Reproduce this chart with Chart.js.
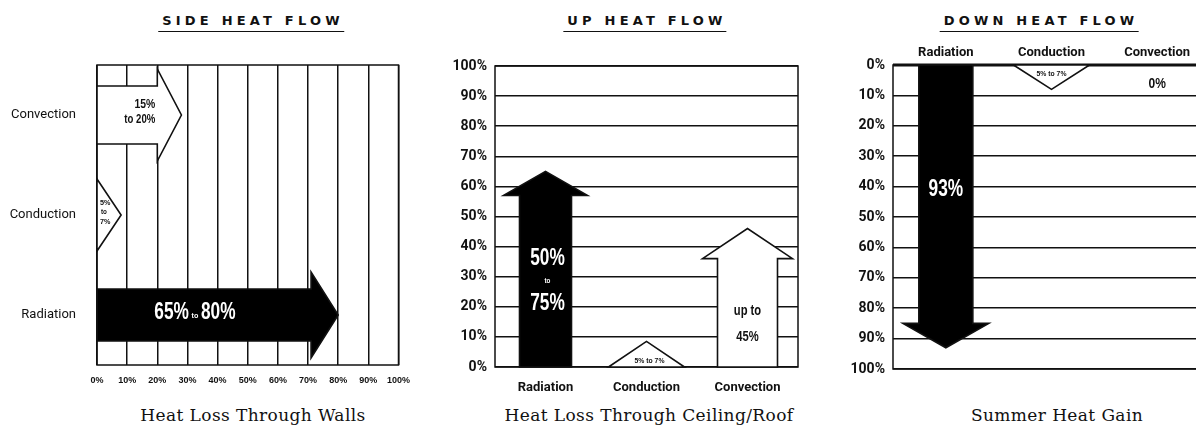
<!DOCTYPE html>
<html>
<head>
<meta charset="utf-8">
<script src="https://cdn.jsdelivr.net/npm/chart.js@4.4.0/dist/chart.umd.min.js"></script>
<style>
  body { margin: 0; background: #fff; width: 1196px; height: 430px; position: relative; overflow: hidden; }
  canvas { position: absolute; top: 40px; }
  .title { position: absolute; top: 13px; transform: translateX(-50%); white-space: nowrap;
           font: bold 13px "DejaVu Sans", sans-serif; letter-spacing: 4.2px; color: #111;
           border-bottom: 1.5px solid #111; padding: 0 0 3px 4px; line-height: 15px; }
  .caption { position: absolute; top: 405px; transform: translateX(-50%); white-space: nowrap;
             font: 17px "DejaVu Serif", serif; letter-spacing: 0.4px; color: #111; }
</style>
</head>
<body>
<div class="title" style="left:251px">SIDE HEAT FLOW</div>
<div class="title" style="left:645px">UP HEAT FLOW</div>
<div class="title" style="left:1039px">DOWN HEAT FLOW</div>
<canvas id="side" width="420" height="360" style="left:0"></canvas>
<canvas id="up" width="400" height="360" style="left:420px"></canvas>
<canvas id="down" width="392" height="360" style="left:820px"></canvas>
<div class="caption" style="left:253px">Heat Loss Through Walls</div>
<div class="caption" style="left:649px">Heat Loss Through Ceiling/Roof</div>
<div class="caption" style="left:1057px">Summer Heat Gain</div>

<script>
const pctTicks = ['0%', '10%', '20%', '30%', '40%', '50%', '60%', '70%', '80%', '90%', '100%'];

const sideCategories = ['Convection', 'Conduction', 'Radiation'];
const sideBody = [20, 0, 71];
const sideTip = [28, 8, 80];
const sideNotes = [['15%', 'to 20%'], ['5%', 'to', '7%'], ['65%', 'to', '80%']];

const upCategories = ['Radiation', 'Conduction', 'Convection'];
const upBody = [57, 0, 36];
const upTip = [65, 8.5, 46];
const upNotes = [['50%', 'to', '75%'], ['5% to 7%'], ['up to', '45%']];

const downCategories = ['Radiation', 'Conduction', 'Convection'];
const downBody = [85, 0, 0];
const downTip = [93, 8, 0];
const downNotes = [['93%'], ['5% to 7%'], ['0%']];

const INK = '#111';
const FAMILY = 'Roboto, "Liberation Sans", sans-serif';
const pctFont = { family: FAMILY, size: 14, weight: 'bold' };
const catFont = { family: FAMILY, size: 13, weight: 'bold' };
const pctLabel = (v) => pctTicks[Math.round(v / 10)];

// texte "condensé" : on compresse horizontalement
function condText(ctx, txt, x, y, size, color, align, sx) {
  ctx.save();
  ctx.translate(x, y);
  ctx.scale(sx || 0.72, 1);
  ctx.font = 'bold ' + size + 'px "Liberation Sans", Arial, sans-serif';
  ctx.fillStyle = color;
  ctx.textAlign = align || 'center';
  ctx.textBaseline = 'middle';
  ctx.fillText(txt, 0, 0);
  ctx.restore();
}

// cadre du graphique
const frame = {
  id: 'frame',
  beforeDatasetsDraw(chart) {
    const a = chart.chartArea, ctx = chart.ctx;
    ctx.save();
    ctx.strokeStyle = INK;
    ctx.lineWidth = chart.options.plugins.frame.width || 1.5;
    ctx.strokeRect(a.left, a.top, a.right - a.left, a.bottom - a.top);
    ctx.restore();
  },
  afterDatasetsDraw(chart) {
    const o = chart.options.plugins.frame;
    if (!o.topWidth) return;
    const a = chart.chartArea, ctx = chart.ctx;
    ctx.save();
    ctx.strokeStyle = INK;
    ctx.lineWidth = o.topWidth;
    ctx.beginPath(); ctx.moveTo(a.left, a.top); ctx.lineTo(a.right, a.top); ctx.stroke();
    ctx.restore();
  }
};

function scalesOf(chart) {
  const horiz = chart.options.indexAxis === 'y';
  return {
    horiz,
    iS: horiz ? chart.scales.y : chart.scales.x,
    vS: horiz ? chart.scales.x : chart.scales.y
  };
}

// flèches : corps jusqu'à body, pointe jusqu'à tip
const arrows = {
  id: 'arrows',
  afterDatasetsDraw(chart) {
    const o = chart.options.plugins.arrows;
    const ds = chart.data.datasets[0];
    const { horiz, iS, vS } = scalesOf(chart);
    const ctx = chart.ctx;
    ds.data.forEach((tip, i) => {
      if (!tip) return;
      const body = ds.body[i];
      const c = iS.getPixelForValue(i);
      const v0 = vS.getPixelForValue(0);
      const v1 = vS.getPixelForValue(body);
      const v2 = vS.getPixelForValue(tip);
      const bh = o.bodyHalf[i], hh = o.headHalf[i];
      const pts = body === 0
        ? [[v0, -hh], [v2, 0], [v0, hh]]
        : [[v0, -bh], [v1, -bh], [v1, -hh], [v2, 0], [v1, hh], [v1, bh], [v0, bh]];
      ctx.save();
      ctx.beginPath();
      ctx.rect(chart.chartArea.left - 2, chart.chartArea.top - 1, chart.chartArea.width + 4, chart.chartArea.height + 2);
      ctx.clip();
      ctx.beginPath();
      pts.forEach(([a, b], k) => {
        const x = horiz ? a : c + b;
        const y = horiz ? c + b : a;
        if (k) ctx.lineTo(x, y); else ctx.moveTo(x, y);
      });
      ctx.closePath();
      ctx.fillStyle = o.fill[i];
      ctx.fill();
      ctx.strokeStyle = INK;
      ctx.lineWidth = 1.6;
      ctx.stroke();
      ctx.restore();
    });
  }
};

const noLegend = { legend: { display: false }, tooltip: { enabled: false } };

// ---------- SIDE HEAT FLOW ----------
new Chart(document.getElementById('side'), {
  type: 'bar',
  data: {
    labels: sideCategories,
    datasets: [{ data: sideTip, body: sideBody, backgroundColor: 'rgba(0,0,0,0)' }]
  },
  options: {
    responsive: false, animation: false, events: [],
    indexAxis: 'y',
    layout: { padding: { left: 0, right: 14, top: 25, bottom: 10 } },
    scales: {
      x: {
        type: 'linear', min: 0, max: 100,
        afterFit(s) { s.height = 25; },
        ticks: { stepSize: 10, padding: 10, color: INK, font: { family: '"Liberation Sans", sans-serif', size: 9, weight: 'bold' },
                 callback: pctLabel },
        grid: { color: INK, lineWidth: 1.5, drawTicks: false },
        border: { display: false }
      },
      y: {
        afterFit(s) { s.width = 97; },
        ticks: { padding: 13, color: INK, font: { family: FAMILY, size: 13 } },
        grid: { display: false },
        border: { display: false }
      }
    },
    plugins: Object.assign({}, noLegend, {
      frame: { width: 1.5 },
      arrows: { bodyHalf: [29, 0, 26], headHalf: [46, 36, 43], fill: ['#fff', '#fff', '#000'] }
    })
  },
  plugins: [frame, arrows, {
    id: 'sideNotes',
    afterDatasetsDraw(chart) {
      const { iS, vS } = scalesOf(chart);
      const ctx = chart.ctx;
      const c0 = iS.getPixelForValue(0) - 4, c1 = iS.getPixelForValue(1), c2 = iS.getPixelForValue(2);
      const e0 = vS.getPixelForValue(sideBody[0]) - 2;
      condText(ctx, sideNotes[0][0], e0, c0 - 7, 13, INK, 'right', 0.8);
      condText(ctx, sideNotes[0][1], e0, c0 + 9, 12, INK, 'right', 0.8);
      const l = vS.getPixelForValue(0) + 3;
      condText(ctx, sideNotes[1][0], l, c1 - 12, 8, INK, 'left', 0.9);
      condText(ctx, sideNotes[1][1], l + 1, c1 - 3, 7, INK, 'left', 0.9);
      condText(ctx, sideNotes[1][2], l, c1 + 7, 8, INK, 'left', 0.9);
      const y2 = c2 - 3;
      condText(ctx, sideNotes[2][0], vS.getPixelForValue(30.5), y2, 24, '#fff', 'right', 0.72);
      condText(ctx, sideNotes[2][1], vS.getPixelForValue(32.5), y2 + 4, 8, '#fff', 'center', 0.9);
      condText(ctx, sideNotes[2][2], vS.getPixelForValue(34.5), y2, 24, '#fff', 'left', 0.72);
    }
  }]
});

// ---------- UP HEAT FLOW ----------
new Chart(document.getElementById('up'), {
  type: 'bar',
  data: {
    labels: upCategories,
    datasets: [{ data: upTip, body: upBody, backgroundColor: 'rgba(0,0,0,0)' }]
  },
  options: {
    responsive: false, animation: false, events: [],
    layout: { padding: { left: 0, right: 22, top: 26, bottom: 3 } },
    scales: {
      y: {
        type: 'linear', min: 0, max: 100,
        afterFit(s) { s.width = 75; },
        ticks: { stepSize: 10, padding: 8, color: INK, font: pctFont, callback: pctLabel },
        grid: { color: INK, lineWidth: 1.5, drawTicks: false },
        border: { display: false }
      },
      x: {
        afterFit(s) { s.height = 30; },
        ticks: { padding: 5, color: INK, font: catFont },
        grid: { display: false },
        border: { display: false }
      }
    },
    plugins: Object.assign({}, noLegend, {
      frame: { width: 1.5 },
      arrows: { bodyHalf: [26, 0, 30], headHalf: [42, 38, 45], fill: ['#000', '#fff', '#fff'] }
    })
  },
  plugins: [frame, arrows, {
    id: 'upNotes',
    afterDatasetsDraw(chart) {
      const { iS, vS } = scalesOf(chart);
      const ctx = chart.ctx;
      const c0 = iS.getPixelForValue(0) + 2, c1 = iS.getPixelForValue(1), c2 = iS.getPixelForValue(2);
      condText(ctx, upNotes[0][0], c0, vS.getPixelForValue(36), 24, '#fff', 'center', 0.72);
      condText(ctx, upNotes[0][1], c0, vS.getPixelForValue(28.5), 7, '#fff', 'center', 0.9);
      condText(ctx, upNotes[0][2], c0, vS.getPixelForValue(21), 24, '#fff', 'center', 0.72);
      condText(ctx, upNotes[1][0], c1 + 3, vS.getPixelForValue(2.2), 8, INK, 'center', 0.85);
      condText(ctx, upNotes[2][0], c2, vS.getPixelForValue(18.5), 14, INK, 'center', 0.8);
      condText(ctx, upNotes[2][1], c2, vS.getPixelForValue(10), 14, INK, 'center', 0.8);
    }
  }]
});

// ---------- DOWN HEAT FLOW ----------
new Chart(document.getElementById('down'), {
  type: 'bar',
  data: {
    labels: downCategories,
    datasets: [{ data: downTip, body: downBody, backgroundColor: 'rgba(0,0,0,0)' }]
  },
  options: {
    responsive: false, animation: false, events: [],
    layout: { padding: { left: 0, right: 2, top: 0, bottom: 31 } },
    scales: {
      y: {
        type: 'linear', min: 0, max: 100, reverse: true,
        afterFit(s) { s.width = 73; },
        ticks: { stepSize: 10, padding: 8, color: INK, font: pctFont, callback: pctLabel },
        grid: { color: INK, lineWidth: 1.5, drawTicks: false },
        border: { display: false }
      },
      x: {
        position: 'top',
        afterFit(s) { s.height = 25; },
        ticks: { padding: -4, color: INK, font: catFont },
        grid: { display: false },
        border: { display: false }
      }
    },
    plugins: Object.assign({}, noLegend, {
      frame: { width: 1.5, topWidth: 3 },
      arrows: { bodyHalf: [27, 0, 0], headHalf: [43, 38, 0], fill: ['#000', '#fff', '#fff'] }
    })
  },
  plugins: [frame, arrows, {
    id: 'downNotes',
    afterDatasetsDraw(chart) {
      const { iS, vS } = scalesOf(chart);
      const ctx = chart.ctx;
      const c0 = iS.getPixelForValue(0), c1 = iS.getPixelForValue(1), c2 = iS.getPixelForValue(2);
      condText(ctx, downNotes[0][0], c0, vS.getPixelForValue(41), 24, '#fff', 'center', 0.72);
      condText(ctx, downNotes[1][0], c1, vS.getPixelForValue(3), 8, INK, 'center', 0.85);
      condText(ctx, downNotes[2][0], c2, vS.getPixelForValue(6.3), 15, INK, 'center', 0.8);
    }
  }]
});
</script>
</body>
</html>
